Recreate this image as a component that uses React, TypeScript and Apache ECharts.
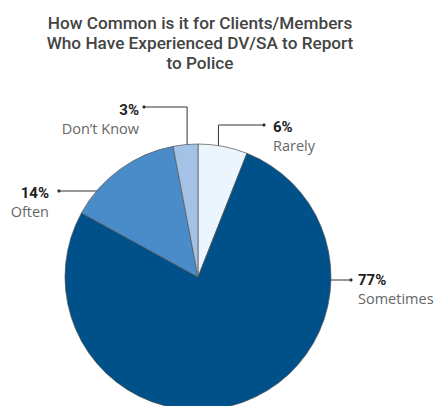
import React, { useEffect, useRef } from "react";
import * as echarts from "echarts";

const titleLines = [
  "How Common is it for Clients/Members",
  "Who Have Experienced DV/SA to Report",
  "to Police",
];
const categories = ["Rarely", "Sometimes", "Often", "Don\u2019t Know"];
const values = [6, 77, 14, 3];
const colors = ["#eaf5fd", "#00508a", "#4a8cc9", "#a4c2e6"];

// annotation layout (not data)
const CX = 198;
const CY = 277;
const R = 133;
type Ann = {
  kind: "v" | "h";
  frac: number;
  angleOverride?: number;
  dot: [number, number];
  lx: number;
  ly: number;
  align: "left" | "right";
};
const annotations: Ann[] = [
  { kind: "v", frac: 0.82, dot: [264, 125], lx: 273, ly: 117, align: "left" },
  { kind: "h", frac: 0.77, angleOverride: 90, dot: [351, 280], lx: 358, ly: 270, align: "left" },
  { kind: "h", frac: 0.8, dot: [59, 191], lx: 49, ly: 183, align: "right" },
  { kind: "v", frac: 0.87, dot: [144, 107], lx: 139, ly: 100, align: "right" },
];

function midAngles(): number[] {
  const total = values.reduce((a, b) => a + b, 0);
  let acc = 0;
  return values.map((v) => {
    const mid = ((acc + v / 2) / total) * 360;
    acc += v;
    return mid;
  });
}

export default function App() {
  const ref = useRef<HTMLDivElement>(null);
  useEffect(() => {
    if (!ref.current) return;
    const chart = echarts.init(ref.current, undefined, { renderer: "svg" });
    const mids = midAngles();
    const anchors = annotations.map((a, i) => {
      const ang = ((a.angleOverride ?? mids[i]) * Math.PI) / 180;
      return [CX + a.frac * R * Math.sin(ang), CY - a.frac * R * Math.cos(ang)];
    });
    const option: any = {
      animation: false,
      title: {
        text: titleLines.join("\n"),
        left: 195,
        textAlign: "center",
        top: 8,
        textStyle: {
          fontFamily: "Roboto",
          fontWeight: 500,
          fontSize: 17.2,
          lineHeight: 20,
          color: "#444",
        },
      },
      graphic: annotations.map((a) => ({
        type: "circle",
        shape: { cx: a.dot[0], cy: a.dot[1], r: 1.6 },
        style: { fill: "#333" },
        z: 10,
      })),
      series: [
        {
          type: "pie",
          center: [CX, CY],
          radius: R,
          startAngle: 90,
          clockwise: true,
          avoidLabelOverlap: false,
          itemStyle: { borderColor: "#555", borderWidth: 0.7 },
          label: {
            show: true,
            position: "outside",
            formatter: (p: any) => `{p|${p.value}%}\n{n|${p.name}}`,
            rich: {
              p: {
                fontFamily: "Roboto",
                fontWeight: "bold",
                fontSize: 15,
                lineHeight: 19,
                color: "#222",
              },
              n: {
                fontFamily: "Open Sans",
                fontSize: 14.5,
                lineHeight: 19,
                color: "#666",
              },
            },
          },
          labelLine: {
            show: true,
            lineStyle: { color: "#333", width: 1 },
          },
          labelLayout: (params: any) => {
            const i = params.dataIndex;
            const a = annotations[i];
            const an = anchors[i];
            let pts: number[][];
            if (a.kind === "v") {
              pts = [[an[0], an[1]], [an[0], a.dot[1]], [a.dot[0], a.dot[1]]];
            } else {
              pts = [
                [an[0], a.dot[1]],
                [(an[0] + a.dot[0]) / 2, a.dot[1]],
                [a.dot[0], a.dot[1]],
              ];
            }
            return {
              x: a.lx,
              y: a.ly,
              align: a.align,
              verticalAlign: "top",
              labelLinePoints: pts,
            };
          },
          data: categories.map((c, i) => ({
            name: c,
            value: values[i],
            itemStyle: { color: colors[i] },
            label: { align: annotations[i].align },
          })),
        },
      ],
    };
    chart.setOption(option);
    return () => chart.dispose();
  }, []);
  return (
    <div
      ref={ref}
      style={{ position: "fixed", left: 0, top: 0, width: 440, height: 406, background: "#fff" }}
    />
  );
}
